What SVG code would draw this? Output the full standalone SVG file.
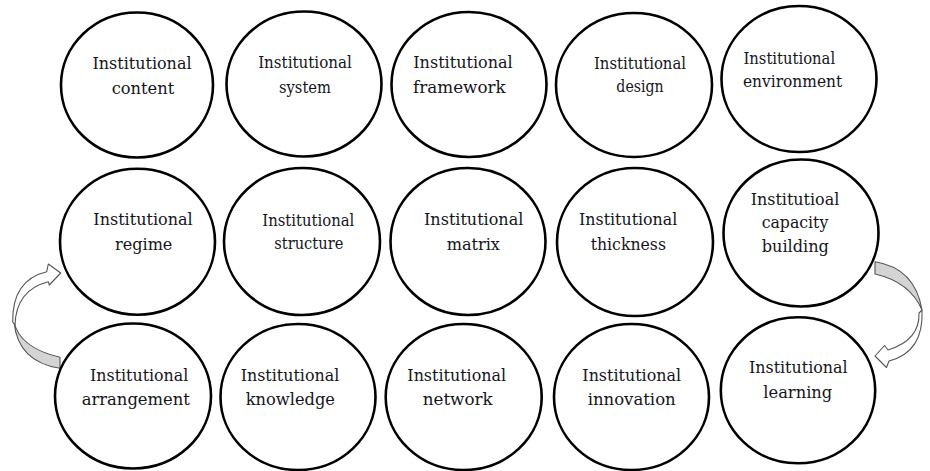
<svg xmlns="http://www.w3.org/2000/svg" width="930" height="471" viewBox="0 0 930 471">
<style>
.c{fill:#fff;stroke:#000;stroke-width:2.6}
.t{font-family:"DejaVu Serif","Liberation Serif",serif;font-size:17px;fill:#151520;text-anchor:middle}
.s{font-size:16px}
.band{fill:#d4d4d4;stroke:#555;stroke-width:1.1;stroke-linejoin:round}
.head{fill:#fff;stroke:#555;stroke-width:1.1;stroke-linejoin:round}
</style>
<rect width="930" height="471" fill="#fff"/>
<g id="connectors">
<g id="arrow-left">
<path class="band" d="M60,357.3 Q20,348 14,322 Q18,362 60,368.3 Z"/>
<path class="head" d="M12.7,322 Q12,280 46.7,271.7 L48.3,264 L60.7,273 L49.3,285 L48.3,281.7 Q16,290 15,325 Z"/>
</g>
<g id="arrow-right">
<path class="band" d="M875,261.7 Q915,268 922,310 Q910,282 875,274 Z"/>
<path class="head" d="M922,310 Q924,352 889,361 L886.5,367.5 L875,356 L884.5,345.5 L888,350 Q920,340 919,313 Z"/>
</g>
</g>
<g id="n-content"><ellipse class="c" cx="137" cy="85" rx="76" ry="72.5"/>
<text class="t" x="142" y="69" textLength="99" lengthAdjust="spacingAndGlyphs">Institutional</text>
<text class="t" x="143" y="94" textLength="62.6" lengthAdjust="spacingAndGlyphs">content</text></g>
<g id="n-system"><ellipse class="c" cx="304" cy="84" rx="77.5" ry="72.5"/>
<text class="t" x="305" y="68" textLength="93.7" lengthAdjust="spacingAndGlyphs">Institutional</text>
<text class="t" x="305" y="93" textLength="52" lengthAdjust="spacingAndGlyphs">system</text></g>
<g id="n-framework"><ellipse class="c" cx="469" cy="84.5" rx="77.5" ry="72.5"/>
<text class="t" x="463" y="68" textLength="99.5" lengthAdjust="spacingAndGlyphs">Institutional</text>
<text class="t" x="459.4" y="93" textLength="92.7" lengthAdjust="spacingAndGlyphs">framework</text></g>
<g id="n-design"><ellipse class="c" cx="634" cy="85" rx="78" ry="72"/>
<text class="t s" x="640" y="69" textLength="92" lengthAdjust="spacingAndGlyphs">Institutional</text>
<text class="t s" x="640" y="91.7" textLength="47.3" lengthAdjust="spacingAndGlyphs">design</text></g>
<g id="n-environment"><ellipse class="c" cx="799" cy="79" rx="77.5" ry="73"/>
<text class="t s" x="789.3" y="64" textLength="91.7" lengthAdjust="spacingAndGlyphs">Institutional</text>
<text class="t s" x="792.6" y="86.7" textLength="99.3" lengthAdjust="spacingAndGlyphs">environment</text></g>
<g id="n-regime"><ellipse class="c" cx="137.5" cy="241.7" rx="77.5" ry="73"/>
<text class="t" x="143" y="225" textLength="99.4" lengthAdjust="spacingAndGlyphs">Institutional</text>
<text class="t" x="143.7" y="250" textLength="57.3" lengthAdjust="spacingAndGlyphs">regime</text></g>
<g id="n-structure"><ellipse class="c" cx="302" cy="241.5" rx="78" ry="73.5"/>
<text class="t s" x="308.3" y="226" textLength="92" lengthAdjust="spacingAndGlyphs">Institutional</text>
<text class="t s" x="308.8" y="249.3" textLength="69" lengthAdjust="spacingAndGlyphs">structure</text></g>
<g id="n-matrix"><ellipse class="c" cx="468" cy="241.5" rx="77.5" ry="73.5"/>
<text class="t" x="473.7" y="225" textLength="99.3" lengthAdjust="spacingAndGlyphs">Institutional</text>
<text class="t" x="473.3" y="250" textLength="53.3" lengthAdjust="spacingAndGlyphs">matrix</text></g>
<g id="n-thickness"><ellipse class="c" cx="635" cy="242" rx="78" ry="74"/>
<text class="t" x="628.2" y="225" textLength="98.3" lengthAdjust="spacingAndGlyphs">Institutional</text>
<text class="t" x="628.3" y="250" textLength="75.3" lengthAdjust="spacingAndGlyphs">thickness</text></g>
<g id="n-capacity"><ellipse class="c" cx="801" cy="233" rx="77.5" ry="73.5"/>
<text class="t s" x="795" y="205" textLength="88.6" lengthAdjust="spacingAndGlyphs">Institutioal</text>
<text class="t s" x="795" y="228.3" textLength="66.6" lengthAdjust="spacingAndGlyphs">capacity</text>
<text class="t s" x="795.3" y="251.7" textLength="67.3" lengthAdjust="spacingAndGlyphs">building</text></g>
<g id="n-arrangement"><ellipse class="c" cx="133" cy="396" rx="78" ry="72.5"/>
<text class="t" x="139.2" y="380.7" textLength="98.3" lengthAdjust="spacingAndGlyphs">Institutional</text>
<text class="t" x="135.8" y="405" textLength="108.3" lengthAdjust="spacingAndGlyphs">arrangement</text></g>
<g id="n-knowledge"><ellipse class="c" cx="298" cy="397" rx="77.5" ry="73"/>
<text class="t" x="290" y="380.7" textLength="98.6" lengthAdjust="spacingAndGlyphs">Institutional</text>
<text class="t" x="290.3" y="405" textLength="89.3" lengthAdjust="spacingAndGlyphs">knowledge</text></g>
<g id="n-network"><ellipse class="c" cx="463.7" cy="397" rx="78" ry="73"/>
<text class="t" x="456.7" y="380.7" textLength="98.7" lengthAdjust="spacingAndGlyphs">Institutional</text>
<text class="t" x="457.7" y="405" textLength="70" lengthAdjust="spacingAndGlyphs">network</text></g>
<g id="n-innovation"><ellipse class="c" cx="631.5" cy="397" rx="77.5" ry="73"/>
<text class="t" x="631.7" y="380.7" textLength="98.7" lengthAdjust="spacingAndGlyphs">Institutional</text>
<text class="t" x="631.7" y="405" textLength="88" lengthAdjust="spacingAndGlyphs">innovation</text></g>
<g id="n-learning"><ellipse class="c" cx="798" cy="390.3" rx="77.2" ry="73"/>
<text class="t" x="798.3" y="373.3" textLength="98.7" lengthAdjust="spacingAndGlyphs">Institutional</text>
<text class="t" x="797.8" y="398.3" textLength="69" lengthAdjust="spacingAndGlyphs">learning</text></g>
</svg>
